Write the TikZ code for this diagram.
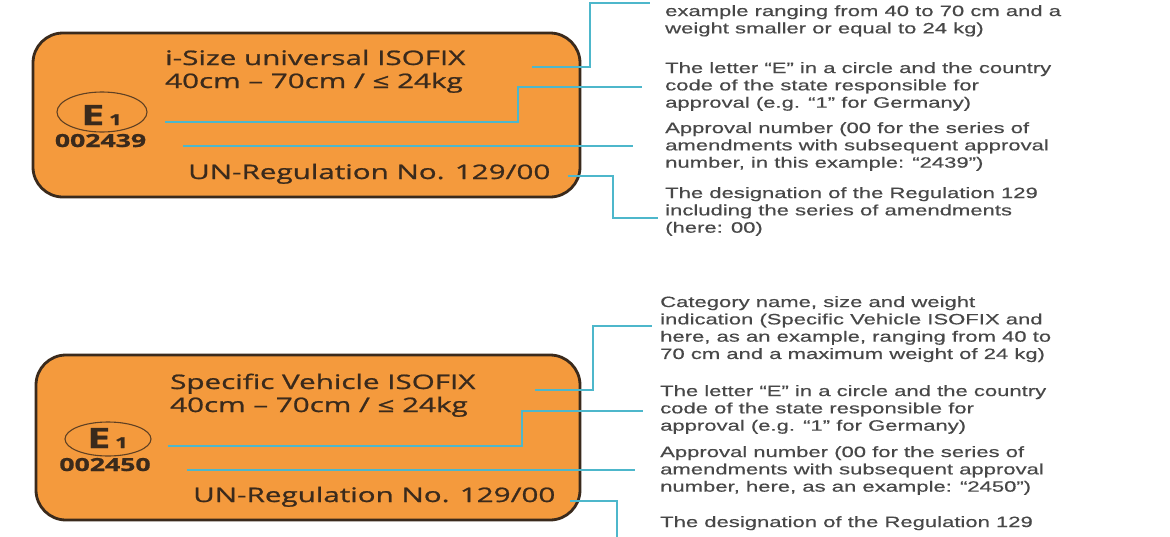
\documentclass[tikz,border=0pt]{standalone}
\usepackage{fontspec}
\newfontfamily\notefont{Liberation Sans}[FakeStretch=1.47, FakeBold=0.4]
\newfontfamily\tagfont{Open Sans}[FakeStretch=1.48, FakeBold=1]
\definecolor{tagorange}{HTML}{F49A3D}
\definecolor{tagbrown}{HTML}{3A2A1C}
\definecolor{leadblue}{HTML}{4DB7CB}
\definecolor{notegray}{HTML}{484848}
\tikzset{
  tag/.style={draw=tagbrown, line width=2.8pt, fill=tagorange, rounded corners=30pt, inner sep=0pt},
  tagtext/.style={anchor=base west, inner sep=0pt, text=tagbrown, font=\tagfont\fontsize{20}{23}\selectfont},
  echar/.style={anchor=base, inner sep=0pt, text=tagbrown, font=\tagfont\bfseries},
  ering/.style={draw=tagbrown!80!tagorange, line width=1.1pt},
  lead/.style={leadblue, line width=2.2pt},
  note/.style={anchor=north west, inner sep=0pt, align=left, text=notegray, font=\notefont\fontsize{15}{17.3}\selectfont}
}
\begin{document}
\begin{tikzpicture}[x=1pt,y=-1pt]
\useasboundingbox (0,0) rectangle (1170,536);
\clip (0,0) rectangle (1170,536);
\fill[white] (0,0) rectangle (1170,536);

% upper label: i-Size universal
\node[tag, minimum width=547pt, minimum height=164pt] (tag1) at (306.5,115) {};
\node[tagtext] (cat1) at (165,65) {i-Size universal ISOFIX};
\node[tagtext] (size1) at (165,88) {40cm – 70cm / ≤ 24kg};
\draw[ering] (102,112) ellipse [x radius=45, y radius=20];
\node[echar] (e1) at (101.5,125) {\fontsize{28}{28}\selectfont E\,\fontsize{15}{15}\selectfont 1};
\node[echar, font=\tagfont\bfseries\fontsize{18}{18}\selectfont] (no1) at (100.5,147) {002439};
\node[tagtext] (reg1) at (188,179) {UN-Regulation No. 129/00};

\coordinate (p1) at (532,67);  \coordinate (q1) at (650,3);
\coordinate (p2) at (165,122); \coordinate (q2) at (642,87);
\coordinate (p3) at (183,146); \coordinate (q3) at (633,146);
\coordinate (p4) at (568,176); \coordinate (q4) at (658,218);
\draw[lead] (p1) -- ++(58,0) |- (q1);
\draw[lead] (p2) -- ++(353,0) |- (q2);
\draw[lead] (p3) -- (q3);
\draw[lead] (p4) -- ++(45,0) |- (q4);

\node[note] (n1) at (665,5) {example ranging from 40 to 70 cm and a\\weight smaller or equal to 24 kg)};
\node[note] (n2) at (665,62) {The letter “E” in a circle and the country\\code of the state responsible for\\approval (e.g. “1” for Germany)};
\node[note] (n3) at (665,122) {Approval number (00 for the series of\\amendments with subsequent approval\\number, in this example: “2439”)};
\node[note] (n4) at (665,187) {The designation of the Regulation 129\\including the series of amendments\\(here: 00)};

% lower label: Specific Vehicle
\node[tag, minimum width=544pt, minimum height=165pt] (tag2) at (308,437.5) {};
\node[tagtext] (cat2) at (170,389) {Specific Vehicle ISOFIX};
\node[tagtext] (size2) at (170,412) {40cm – 70cm / ≤ 24kg};
\draw[ering] (108,439) ellipse [x radius=43, y radius=17];
\node[echar] (e2) at (107.5,448) {\fontsize{28}{28}\selectfont E\,\fontsize{15}{15}\selectfont 1};
\node[echar, font=\tagfont\bfseries\fontsize{18}{18}\selectfont] (no2) at (105,471) {002450};
\node[tagtext] (reg2) at (193,502) {UN-Regulation No. 129/00};

\coordinate (p5) at (535,390); \coordinate (q5) at (652,326);
\coordinate (p6) at (168,446); \coordinate (q6) at (643,411);
\coordinate (p7) at (187,470); \coordinate (q7) at (635,470);
\coordinate (p8) at (570,501); \coordinate (q8) at (617,540);
\draw[lead] (p5) -- ++(58,0) |- (q5);
\draw[lead] (p6) -- ++(354,0) |- (q6);
\draw[lead] (p7) -- (q7);
\draw[lead] (p8) -| (q8);

\node[note] (n5) at (660,296) {Category name, size and weight\\indication (Specific Vehicle ISOFIX and\\here, as an example, ranging from 40 to\\70 cm and a maximum weight of 24 kg)};
\node[note] (n6) at (660,385) {The letter “E” in a circle and the country\\code of the state responsible for\\approval (e.g. “1” for Germany)};
\node[note] (n7) at (660,446) {Approval number (00 for the series of\\amendments with subsequent approval\\number, here, as an example: “2450”)};
\node[note] (n8) at (660,516) {The designation of the Regulation 129};
\end{tikzpicture}
\end{document}
